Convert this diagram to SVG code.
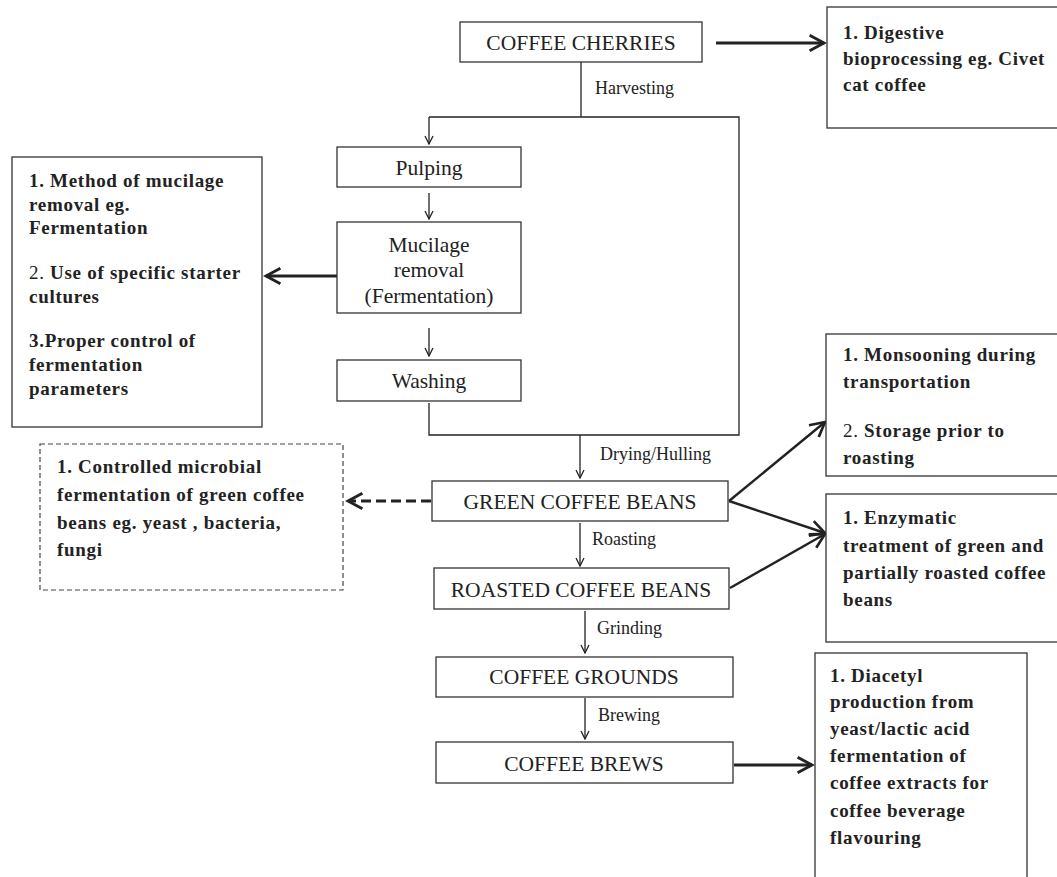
<svg xmlns="http://www.w3.org/2000/svg" width="1057" height="877" viewBox="0 0 1057 877">
<defs>
<style>
.box{fill:#fff;stroke:#333;stroke-width:1.3}
.dbox{fill:#fff;stroke:#444;stroke-width:1.2;stroke-dasharray:5,3}
.t{font-family:"Liberation Serif",serif;font-size:21.5px;fill:#222;text-anchor:middle}
.lbl{font-family:"Liberation Serif",serif;font-size:18px;fill:#222}
.b{font-family:"Liberation Serif",serif;font-size:19px;letter-spacing:0.7px;font-weight:bold;fill:#222}
.n{font-weight:normal}
.thin{fill:none;stroke:#222;stroke-width:1.3}
.thick{fill:none;stroke:#222;stroke-width:3.2}
.med{fill:none;stroke:#222;stroke-width:2.4}
</style>
<marker id="ah" viewBox="0 0 10 10" refX="9" refY="5" markerWidth="10" markerHeight="10" markerUnits="userSpaceOnUse" orient="auto"><path d="M1,1 L9,5 L1,9" fill="none" stroke="#222" stroke-width="1.3"/></marker>
<marker id="ahb" viewBox="0 0 10 10" refX="8.5" refY="5" markerWidth="6" markerHeight="6" orient="auto"><path d="M1,1 L8.5,5 L1,9" fill="none" stroke="#222" stroke-width="1.5"/></marker>
<marker id="ahm" viewBox="0 0 10 10" refX="8.5" refY="5" markerWidth="8" markerHeight="8" orient="auto"><path d="M1,1 L8.5,5 L1,9" fill="none" stroke="#222" stroke-width="1.4"/></marker>
</defs>

<g id="connectors">
<line class="thick" x1="716" y1="43" x2="824" y2="43" marker-end="url(#ahb)"/>
<polyline class="thin" points="581,62 581,117"/>
<polyline class="thin" points="429,117 739,117 739,435 429,435 429,403"/>
<line class="thin" x1="429" y1="117" x2="429" y2="144" marker-end="url(#ah)"/>
<line class="thin" x1="429" y1="193" x2="429" y2="219" marker-end="url(#ah)"/>
<line class="thin" x1="429" y1="328" x2="429" y2="356" marker-end="url(#ah)"/>
<line class="thick" x1="337" y1="276" x2="266" y2="276" marker-end="url(#ahb)"/>
<line class="thin" x1="580" y1="435" x2="580" y2="478" marker-end="url(#ah)"/>
<line class="thick" x1="431" y1="501" x2="348" y2="501" stroke-dasharray="10,5" marker-end="url(#ahb)"/>
<line class="thin" x1="580" y1="523" x2="580" y2="566" marker-end="url(#ah)"/>
<line class="thin" x1="585" y1="611" x2="585" y2="653" marker-end="url(#ah)"/>
<line class="thin" x1="585" y1="698" x2="585" y2="739" marker-end="url(#ah)"/>
<line class="thick" x1="734" y1="765" x2="812" y2="765" marker-end="url(#ahb)"/>
<line class="med" x1="729" y1="501" x2="825" y2="422" marker-end="url(#ahm)"/>
<line class="med" x1="729" y1="501" x2="825" y2="533" marker-end="url(#ahm)"/>
<line class="med" x1="730" y1="588" x2="825" y2="534" marker-end="url(#ahm)"/>
<text class="lbl" x="595" y="94">Harvesting</text>
<text class="lbl" x="600" y="460">Drying/Hulling</text>
<text class="lbl" x="592" y="545">Roasting</text>
<text class="lbl" x="597" y="634">Grinding</text>
<text class="lbl" x="598" y="721">Brewing</text>
</g>

<g id="coffee-cherries">
<rect class="box" x="460" y="22" width="242" height="40"/>
<text class="t" x="581" y="50">COFFEE CHERRIES</text>
</g>
<g id="digestive">
<rect class="box" x="827" y="7" width="240" height="121"/>
<text class="b" x="843" y="39">1. Digestive</text>
<text class="b" x="843" y="65">bioprocessing eg. Civet</text>
<text class="b" x="843" y="91">cat coffee</text>
</g>
<g id="pulping">
<rect class="box" x="337" y="147" width="184" height="40"/>
<text class="t" x="429" y="175">Pulping</text>
</g>
<g id="mucilage">
<rect class="box" x="337" y="222" width="184" height="91"/>
<text class="t" x="429" y="252">Mucilage</text>
<text class="t" x="429" y="277">removal</text>
<text class="t" x="429" y="303">(Fermentation)</text>
</g>
<g id="washing">
<rect class="box" x="337" y="360" width="184" height="41"/>
<text class="t" x="429" y="388">Washing</text>
</g>
<g id="mucilage-notes">
<rect class="box" x="12" y="157" width="250" height="270"/>
<text class="b" x="29" y="187">1. Method of mucilage</text>
<text class="b" x="29" y="211">removal eg.</text>
<text class="b" x="29" y="234">Fermentation</text>
<text class="b" x="29" y="279"><tspan class="n">2.</tspan> Use of specific starter</text>
<text class="b" x="29" y="303">cultures</text>
<text class="b" x="29" y="347">3.Proper control of</text>
<text class="b" x="29" y="371">fermentation</text>
<text class="b" x="29" y="395">parameters</text>
</g>
<g id="controlled-fermentation">
<rect class="dbox" x="40" y="444" width="303" height="146"/>
<text class="b" x="57" y="473">1. Controlled microbial</text>
<text class="b" x="57" y="501">fermentation of green coffee</text>
<text class="b" x="57" y="529">beans eg. yeast , bacteria,</text>
<text class="b" x="57" y="556">fungi</text>
</g>
<g id="green-coffee-beans">
<rect class="box" x="432" y="481" width="296" height="40"/>
<text class="t" x="580" y="509">GREEN COFFEE BEANS</text>
</g>
<g id="roasted-coffee-beans">
<rect class="box" x="434" y="568" width="295" height="41"/>
<text class="t" x="581" y="597">ROASTED COFFEE BEANS</text>
</g>
<g id="coffee-grounds">
<rect class="box" x="436" y="657" width="297" height="40"/>
<text class="t" x="584" y="684">COFFEE GROUNDS</text>
</g>
<g id="coffee-brews">
<rect class="box" x="436" y="742" width="297" height="41"/>
<text class="t" x="584" y="771">COFFEE BREWS</text>
</g>
<g id="monsooning">
<rect class="box" x="826" y="334" width="240" height="142"/>
<text class="b" x="843" y="361">1. Monsooning during</text>
<text class="b" x="843" y="388">transportation</text>
<text class="b" x="843" y="437"><tspan class="n">2.</tspan> Storage prior to</text>
<text class="b" x="843" y="464">roasting</text>
</g>
<g id="enzymatic">
<rect class="box" x="826" y="494" width="240" height="148"/>
<text class="b" x="843" y="524">1. Enzymatic</text>
<text class="b" x="843" y="552">treatment of green and</text>
<text class="b" x="843" y="579">partially roasted coffee</text>
<text class="b" x="843" y="606">beans</text>
</g>
<g id="diacetyl">
<rect class="box" x="815" y="653" width="212" height="235"/>
<text class="b" x="830" y="682">1. Diacetyl</text>
<text class="b" x="830" y="708">production from</text>
<text class="b" x="830" y="735">yeast/lactic acid</text>
<text class="b" x="830" y="762">fermentation of</text>
<text class="b" x="830" y="789">coffee extracts for</text>
<text class="b" x="830" y="817">coffee beverage</text>
<text class="b" x="830" y="844">flavouring</text>
</g>
</svg>
